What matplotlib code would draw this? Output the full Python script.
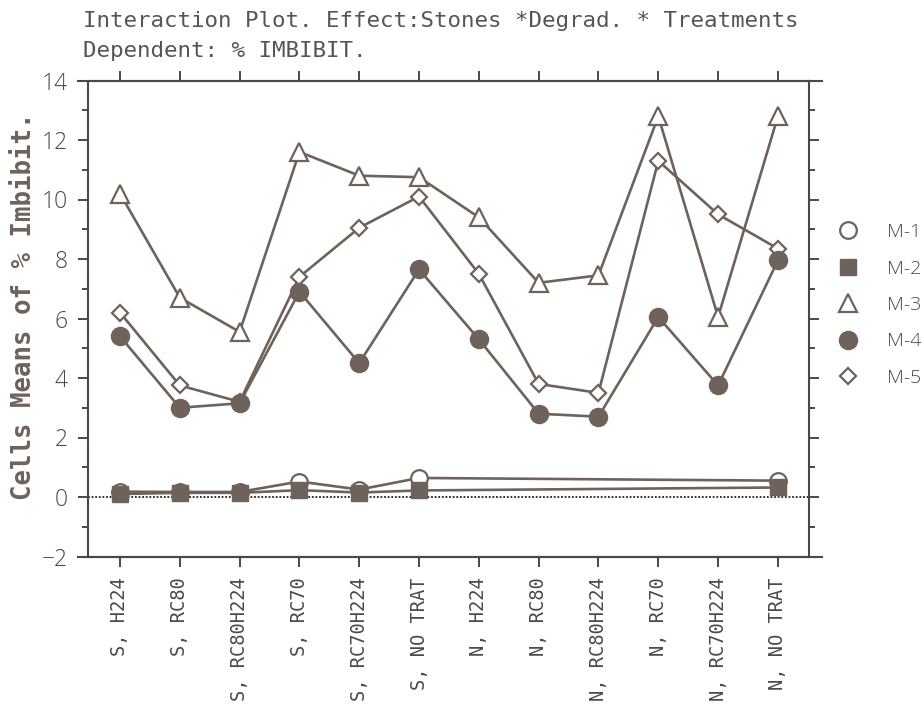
import matplotlib
matplotlib.use("Agg")
import matplotlib.pyplot as plt
from matplotlib.lines import Line2D
from matplotlib.ticker import MultipleLocator
import numpy as np

# ---- data -------------------------------------------------------------
categories = ["S, H224", "S, RC80", "S, RC80H224", "S, RC70", "S, RC70H224",
              "S, NO TRAT", "N, H224", "N, RC80", "N, RC80H224", "N, RC70",
              "N, RC70H224", "N, NO TRAT"]

nan = np.nan
m1 = [0.18, 0.17, 0.17, 0.52, 0.25, 0.64, nan, nan, nan, nan, nan, 0.55]
m2 = [0.10, 0.14, 0.14, 0.23, 0.15, 0.22, nan, nan, nan, nan, nan, 0.32]
m3 = [10.2, 6.7, 5.55, 11.6, 10.8, 10.75, 9.4, 7.2, 7.45, 12.8, 6.05, 12.8]
m4 = [5.4, 3.0, 3.15, 6.9, 4.5, 7.65, 5.3, 2.8, 2.7, 6.05, 3.75, 7.95]
m5 = [6.2, 3.75, 3.2, 7.4, 9.05, 10.1, 7.5, 3.8, 3.5, 11.3, 9.5, 8.35]

series_names = ["M-1", "M-2", "M-3", "M-4", "M-5"]

title_line1 = "Interaction Plot. Effect:Stones *Degrad. * Treatments"
title_line2 = "Dependent: % IMBIBIT."
y_label = "Cells Means of % Imbibit."

# ---- styling ----------------------------------------------------------
INK = "#6e625b"       # marks and lines
FRAME = "#4d4845"     # axis frame
TXT = "#4a4a4a"

W, H = 924, 726
fig = plt.figure(figsize=(W / 100, H / 100), dpi=100)
ax_l, ax_r, ax_t, ax_b = 88, 809, 80.5, 556.5
ax = fig.add_axes([ax_l / W, 1 - ax_b / H, (ax_r - ax_l) / W, (ax_b - ax_t) / H])

x = np.arange(len(categories))

styles = {
    "M-1": dict(marker="o", ms=12, mfc="white", mec=INK, mew=1.6),
    "M-2": dict(marker="s", ms=11.5, mfc=INK, mec=INK, mew=1.0),
    "M-3": dict(marker="^", ms=12.5, mfc="white", mec=INK, mew=1.6),
    "M-4": dict(marker="o", ms=13, mfc=INK, mec=INK, mew=1.0),
    "M-5": dict(marker="D", ms=7.8, mfc="white", mec=INK, mew=1.6),
}
zorders = {"M-1": 3, "M-2": 4, "M-3": 5, "M-4": 7, "M-5": 6}

for name, vals in zip(series_names, [m1, m2, m3, m4, m5]):
    v = np.asarray(vals, dtype=float)
    ok = ~np.isnan(v)
    ax.plot(x[ok], v[ok], color=INK, lw=1.9, zorder=zorders[name],
            clip_on=False, **styles[name])

# dotted zero reference
ax.axhline(0, color="#222222", lw=1.3, ls=(0, (1, 1)), zorder=2)

ax.set_xlim(-0.535, 11.52)
ax.set_ylim(-2, 14)

for s in ax.spines.values():
    s.set_color(FRAME)
    s.set_linewidth(1.5)

# top and bottom frame lines run a little past the side spines
for yv in (0, 1):
    ax.add_line(Line2D([-0.014, 1.018], [yv, yv], transform=ax.transAxes,
                       color=FRAME, lw=1.5, clip_on=False))

ax.set_xticks(x)
ax.set_xticklabels(categories, rotation=90, va="top", ha="center",
                   family="DejaVu Sans Mono", fontsize=13.5, color=TXT)
ax.tick_params(axis="x", which="both", direction="out", length=7,
               width=1.4, color=FRAME, top=True, bottom=True, pad=8)

ax.yaxis.set_major_locator(MultipleLocator(2))
ax.yaxis.set_minor_locator(MultipleLocator(1))
ax.tick_params(axis="y", which="major", direction="out", length=7.5,
               width=1.4, color=FRAME, left=True, right=True, pad=7,
               labelsize=16.5, labelcolor=TXT)
ax.tick_params(axis="y", which="minor", direction="out", length=4,
               width=1.4, color=FRAME, left=True, right=True)
for lab in ax.get_yticklabels():
    lab.set_family("Open Sans")
    lab.set_fontweight("light")

# legend (markers only)
handles = [Line2D([], [], ls="none", **styles[n]) for n in series_names]
fig.legend(handles, series_names, loc="center left",
           bbox_to_anchor=(838 / W, 1 - 305 / H), frameon=False,
           handlelength=1.0, handletextpad=1.5, labelspacing=0.95,
           borderpad=0, borderaxespad=0,
           prop={"family": "Open Sans", "size": 14, "weight": "light"},
           labelcolor=TXT)

# titles
fig.text(83 / W, 1 - 27 / H, title_line1, family="DejaVu Sans Mono",
         fontsize=16.2, color="#555555", ha="left", va="baseline")
fig.text(83 / W, 1 - 57 / H, title_line2, family="DejaVu Sans Mono",
         fontsize=16.2, color="#555555", ha="left", va="baseline")

fig.text(24 / W, 1 - 306 / H, y_label, rotation=90, ha="center", va="center",
         family="DejaVu Sans Mono", fontweight="bold", fontsize=18.5,
         color=INK)

fig.savefig("out.png", dpi=100)
